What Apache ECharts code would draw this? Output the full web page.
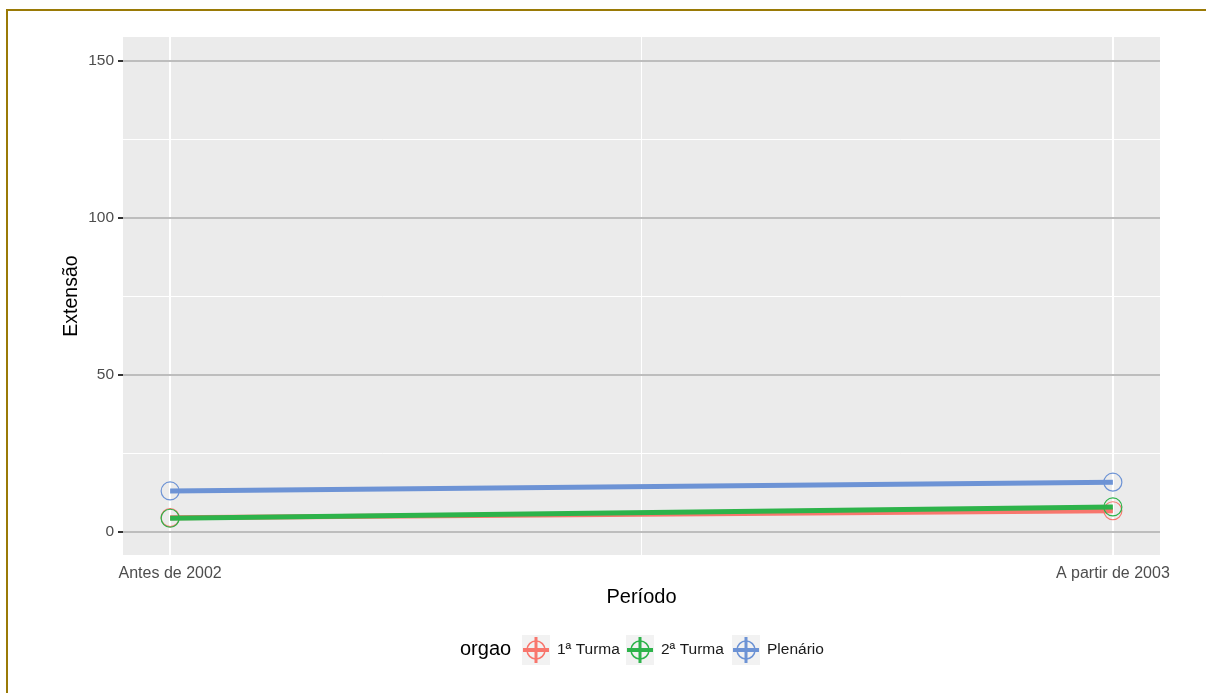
<!DOCTYPE html>
<html>
<head>
<meta charset="utf-8">
<script src="https://cdn.jsdelivr.net/npm/echarts@6/dist/echarts.min.js"></script>
<style>
html,body{margin:0;padding:0;background:#fff;}
#chart{width:1206px;height:693px;}
</style>
</head>
<body>
<div id="chart"></div>
<script>
// ---- data ----
const categories = ['Antes de 2002', 'A partir de 2003'];
const categoryPositions = [1, 2];
const seriesNames = ['1ª Turma', '2ª Turma', 'Plenário'];
const turma1 = [4.4, 6.6];
const turma2 = [4.2, 7.8];
const plenario = [12.9, 15.7];
const yTicks = [0, 50, 100, 150];
const yMinorTicks = [25, 75, 125];
const xMinorTicks = [1.5];
const legendTitle = 'orgao';
const xTitle = 'Período';
const yTitle = 'Extensão';

const colors = ['#f8766d', '#2db34a', '#6d93d5'];
const values = [turma1, turma2, plenario];
const FONT = '"Liberation Sans", Arial, sans-serif';

const chart = echarts.init(document.getElementById('chart'), null, {renderer: 'canvas'});

function pairs(arr) { return arr.map((v, i) => [categoryPositions[i], v]); }

const dataSeries = values.map((arr, i) => ({
  name: seriesNames[i],
  type: 'line',
  data: pairs(arr),
  symbol: 'circle',
  symbolSize: 18,
  showSymbol: true,
  itemStyle: {color: 'rgba(0,0,0,0)', borderColor: colors[i], borderWidth: 1.2},
  lineStyle: {color: colors[i], width: 5},
  z: 5 + i,
  silent: true,
  animation: false
}));

const gridSeries = {
  type: 'line',
  data: [],
  silent: true,
  animation: false,
  z: 1,
  markLine: {
    silent: true,
    symbol: ['none', 'none'],
    label: {show: false},
    animation: false,
    data: [
      ...yMinorTicks.map(v => ({yAxis: v, lineStyle: {color: '#ffffff', width: 1, type: 'solid'}})),
      ...xMinorTicks.map(v => ({xAxis: v, lineStyle: {color: '#ffffff', width: 1, type: 'solid'}})),
      ...categoryPositions.map(v => ({xAxis: v, lineStyle: {color: '#ffffff', width: 2, type: 'solid'}})),
      ...yTicks.map(v => ({yAxis: v, lineStyle: {color: '#bdbdbd', width: 2, type: 'solid'}}))
    ]
  }
};

// legend drawn as graphic elements
const legendGraphics = [];
legendGraphics.push({
  type: 'text', left: 460, top: 639,
  style: {text: legendTitle, font: '20px ' + FONT, fill: '#000'}
});
const keyX = [522, 626, 732];
const labelX = [557, 661, 767];
seriesNames.forEach((n, i) => {
  const x = keyX[i], y = 635, w = 28, h = 30;
  const cx = x + w / 2, cy = y + h / 2;
  legendGraphics.push({type: 'rect', shape: {x: x, y: y, width: w, height: h}, style: {fill: '#f2f2f2'}, silent: true});
  legendGraphics.push({type: 'line', shape: {x1: x + 1, y1: cy, x2: x + w - 1, y2: cy}, style: {stroke: colors[i], lineWidth: 4}, silent: true});
  legendGraphics.push({type: 'line', shape: {x1: cx, y1: y + 2, x2: cx, y2: y + h - 2}, style: {stroke: colors[i], lineWidth: 3}, silent: true});
  legendGraphics.push({type: 'circle', shape: {cx: cx, cy: cy, r: 9}, style: {fill: 'none', stroke: colors[i], lineWidth: 1.5}, silent: true});
  legendGraphics.push({type: 'text', left: labelX[i], top: 642, style: {text: n, font: '15.5px ' + FONT, fill: '#1a1a1a'}});
});

const option = {
  backgroundColor: '#ffffff',
  animation: false,
  grid: {
    left: 123, right: 46, top: 37, bottom: 138,
    show: true, backgroundColor: '#ebebeb', borderWidth: 0, containLabel: false
  },
  xAxis: {
    type: 'value', min: 0.95, max: 2.05,
    name: xTitle, nameLocation: 'middle', nameGap: 32,
    nameTextStyle: {fontFamily: FONT, fontSize: 20, color: '#000'},
    axisLine: {show: false},
    axisTick: {show: true, customValues: categoryPositions, length: 5, lineStyle: {color: '#333', width: 2}},
    axisLabel: {
      customValues: categoryPositions, margin: 11,
      alignMinLabel: 'center', alignMaxLabel: 'center',
      fontFamily: FONT, fontSize: 16, color: '#4d4d4d',
      formatter: v => categories[categoryPositions.indexOf(Math.round(v))] || ''
    },
    splitLine: {show: false}
  },
  yAxis: {
    type: 'value', min: -7.5, max: 157.5,
    name: yTitle, nameLocation: 'middle', nameGap: 41, nameRotate: 90,
    nameMoveOverlap: false,
    nameTextStyle: {fontFamily: FONT, fontSize: 19.5, color: '#000'},
    axisLine: {show: false},
    axisTick: {show: true, customValues: yTicks, length: 5, lineStyle: {color: '#333', width: 2}},
    axisLabel: {customValues: yTicks, margin: 9, fontFamily: FONT, fontSize: 15.5, color: '#4d4d4d'},
    splitLine: {show: false}
  },
  graphic: [
    {type: 'rect', shape: {x: 7, y: 10, width: 1300, height: 800}, style: {fill: 'none', stroke: '#9a7a06', lineWidth: 2}, silent: true, z: 100},
    ...legendGraphics
  ],
  series: [gridSeries, ...dataSeries]
};
chart.setOption(option);
</script>
</body>
</html>
